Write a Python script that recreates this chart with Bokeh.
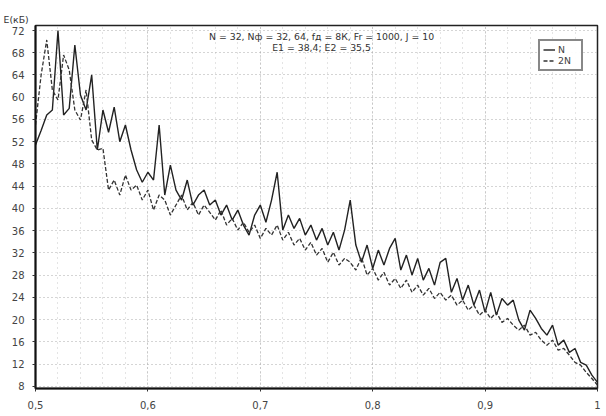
from bokeh.plotting import figure
from bokeh.models import Range1d, Label, Legend, LegendItem, FixedTicker, ColumnDataSource, Title
from bokeh.embed import file_html
from bokeh.resources import INLINE

# x positions (0.5 .. 1.0, step 0.005)
x_vals = [round(0.5 + 0.005 * i, 3) for i in range(101)]

series_N = [
    51.4, 54.0, 56.8, 57.7, 72.0, 56.8, 58.0, 69.4, 60.4, 57.7,
    64.0, 50.5, 57.7, 53.7, 58.2, 52.0, 55.0, 50.5, 46.9, 44.7,
    46.5, 45.1, 55.0, 42.4, 47.8, 43.3, 41.5, 45.1, 40.6, 42.4,
    43.3, 40.6, 41.5, 38.8, 40.6, 37.9, 39.7, 37.0, 35.2, 38.8,
    40.6, 37.5, 41.5, 46.5, 36.1, 38.8, 36.4, 38.2, 35.2, 37.0,
    34.3, 36.4, 33.4, 35.7, 32.5, 36.1, 41.5, 33.4, 30.3, 33.4,
    29.2, 32.5, 29.8, 32.8, 34.6, 28.9, 31.6, 28.0, 31.0, 27.1,
    29.2, 26.2, 30.3, 31.0, 24.9, 27.4, 23.5, 26.2, 22.6, 25.3,
    21.3, 24.9, 20.8, 23.8, 22.6, 23.5, 19.9, 18.1, 21.7, 20.2,
    18.4, 17.2, 19.0, 15.4, 16.3, 14.1, 14.8, 12.3, 11.8, 10.0,
    8.7,
]

series_2N = [
    55.0, 64.0, 70.3, 61.3, 59.5, 67.6, 64.9, 57.7, 55.9, 61.3,
    52.3, 50.5, 50.8, 43.3, 45.1, 42.4, 46.0, 43.3, 44.2, 41.5,
    43.3, 39.7, 42.4, 41.5, 38.8, 40.6, 42.4, 39.7, 41.1, 38.8,
    40.6, 39.3, 37.9, 39.7, 37.0, 38.2, 36.1, 37.5, 35.7, 37.0,
    34.6, 36.4, 35.2, 37.0, 34.3, 35.7, 33.4, 34.6, 32.5, 33.9,
    31.6, 32.8, 30.3, 32.1, 29.8, 31.0, 30.3, 28.9, 31.2, 28.0,
    29.2, 27.1, 28.5, 26.2, 27.4, 25.6, 27.1, 24.9, 26.2, 24.4,
    25.6, 23.8, 24.9, 23.5, 24.4, 22.6, 23.5, 21.7, 22.6, 20.8,
    21.7, 20.2, 21.3, 19.5, 20.2, 19.0, 18.1, 19.0, 17.2, 17.7,
    16.3, 15.4, 16.3, 14.5, 14.8, 13.6, 12.3, 11.8, 10.5, 9.4,
    8.2,
]

x_ticks = [0.5, 0.6, 0.7, 0.8, 0.9, 1.0]
x_tick_labels = ["0,5", "0,6", "0,7", "0,8", "0,9", "1"]
y_ticks = [8, 12, 16, 20, 24, 28, 32, 36, 40, 44, 48, 52, 56, 60, 64, 68, 72]

title_line1 = "N = 32, Nф = 32, 64, fд = 8К, Fr = 1000, J = 10"
title_line2 = "E1 = 38,4; E2 = 35,5"
y_label = "Е(кБ)"

p = figure(width=606, height=416, output_backend="svg", toolbar_location=None,
           x_range=Range1d(0.5, 1.0), y_range=Range1d(7.6, 72.9))
p.min_border_left = 35
p.min_border_right = 9
p.min_border_top = 25
p.min_border_bottom = 28
p.background_fill_color = "white"
p.border_fill_color = "white"
p.outline_line_color = "#222222"
p.outline_line_width = 1.5

# y label at top-left, as a left-aligned title shifted over the axis labels
p.add_layout(Title(text=y_label, align="left", offset=-32, standoff=2,
                   text_font="DejaVu Sans", text_font_size="7pt",
                   text_font_style="normal", text_color="#333333"), "above")

src = ColumnDataSource(dict(x=x_vals, n=series_N, n2=series_2N))
r1 = p.line("x", "n", source=src, line_color="#222222", line_width=1.4)
r2 = p.line("x", "n2", source=src, line_color="#333333", line_width=1.3, line_dash="4 2")

# axes
p.xaxis.ticker = FixedTicker(ticks=x_ticks, minor_ticks=[0.5 + 0.02 * i for i in range(26)])
p.xaxis.major_label_overrides = {t: l for t, l in zip(x_ticks, x_tick_labels)}
p.yaxis.ticker = FixedTicker(ticks=y_ticks)
for ax in (p.xaxis, p.yaxis):
    ax.axis_line_color = "#111111"
    ax.axis_line_width = 2
    ax.major_tick_line_color = "#333333"
    ax.major_tick_in = 0
    ax.major_tick_out = 3
    ax.minor_tick_line_color = None
    ax.major_label_text_font = "DejaVu Sans"
    ax.major_label_text_font_size = "7.5pt"
    ax.major_label_text_color = "#444444"
p.xaxis.major_label_standoff = 8
p.yaxis.major_label_standoff = 8

p.xgrid.grid_line_color = "#aaaaaa"
p.xgrid.grid_line_dash = "1 3"
p.xgrid.minor_grid_line_color = "#c8c8c8"
p.xgrid.minor_grid_line_dash = "1 4"
p.ygrid.grid_line_color = "#aaaaaa"
p.ygrid.grid_line_dash = "1 3"

# annotation text
p.add_layout(Label(x=0.7545, y=70.0, text=title_line1, text_align="center",
                   text_font="DejaVu Sans", text_font_size="7pt", text_color="#333333"))
p.add_layout(Label(x=0.7545, y=68.0, text=title_line2, text_align="center",
                   text_font="DejaVu Sans", text_font_size="7pt", text_color="#333333"))

legend = Legend(items=[LegendItem(label="N", renderers=[r1]),
                       LegendItem(label="2N", renderers=[r2])],
                location="top_right")
legend.border_line_color = "#111111"
legend.border_line_width = 2
legend.label_text_font = "DejaVu Sans"
legend.label_text_font_size = "7pt"
legend.glyph_width = 12
legend.glyph_height = 9
legend.label_height = 9
legend.spacing = 0
legend.padding = 3
legend.margin = 14
legend.label_standoff = 3
p.add_layout(legend)

open("out.html", "w").write(file_html(p, INLINE))
